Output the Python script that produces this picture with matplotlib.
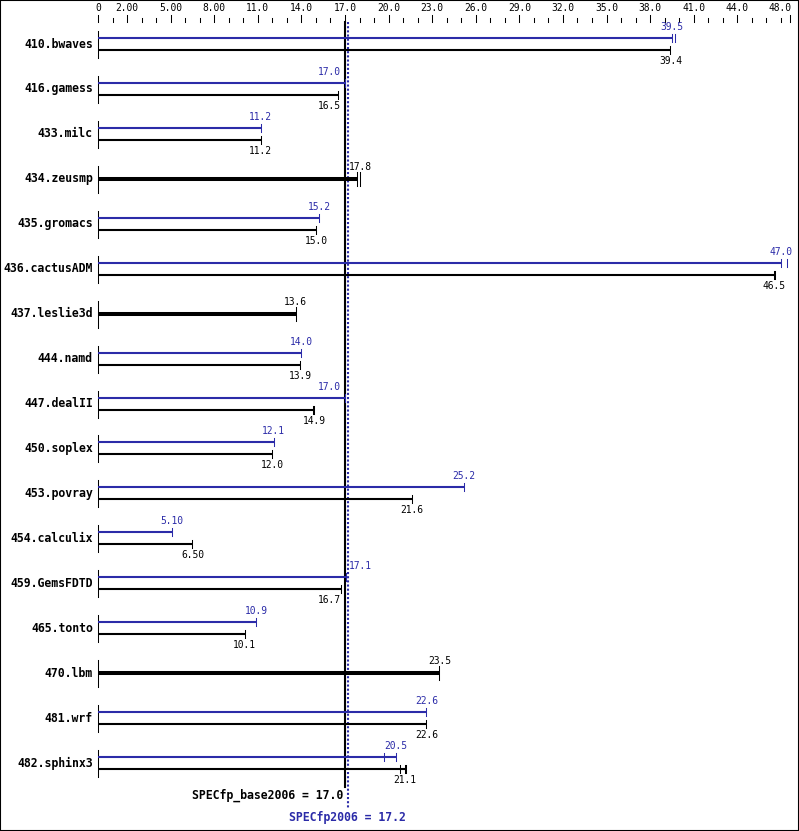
import matplotlib
matplotlib.use("Agg")
import matplotlib.pyplot as plt
from matplotlib.patches import Rectangle

benchmarks = ["410.bwaves", "416.gamess", "433.milc", "434.zeusmp", "435.gromacs",
              "436.cactusADM", "437.leslie3d", "444.namd", "447.dealII", "450.soplex",
              "453.povray", "454.calculix", "459.GemsFDTD", "465.tonto", "470.lbm",
              "481.wrf", "482.sphinx3"]
# None -> peak equal to base, drawn as one thick bar
peak = [39.5, 17.0, 11.2, None, 15.2, 47.0, None, 14.0, 17.0, 12.1, 25.2, 5.10,
        17.1, 10.9, None, 22.6, 20.5]
base = [39.4, 16.5, 11.2, 17.8, 15.0, 46.5, 13.6, 13.9, 14.9, 12.0, 21.6, 6.50,
        16.7, 10.1, 23.5, 22.6, 21.1]
# other run results shown as extra end marks
peak_extra = [[39.7], [], [], [], [], [47.4], [], [], [], [], [], [], [], [], [], [], [19.7]]
base_extra = [[], [], [], [18.0], [], [46.6], [], [], [14.8], [], [], [], [], [], [], [],
              [20.8, 21.2]]
tick_values = [0, 2, 5, 8, 11, 14, 17, 20, 23, 26, 29, 32, 35, 38, 41, 44, 47.6]
tick_labels = ["0", "2.00", "5.00", "8.00", "11.0", "14.0", "17.0", "20.0", "23.0",
               "26.0", "29.0", "32.0", "35.0", "38.0", "41.0", "44.0", "48.0"]
base_score = 17.0
peak_score = 17.2

BLUE = "#2b2ba8"
MONO = "DejaVu Sans Mono"
PX = 14.53   # pixels per unit
X0 = 98      # pixel of zero

fig = plt.figure(figsize=(7.99, 8.31), dpi=100)
ax = fig.add_axes([0, 0, 1, 1])
ax.set_xlim(-X0 / PX, (799 - X0) / PX)
ax.set_ylim(831, 0)
ax.axis("off")
fig.patches.append(Rectangle((0, 0), 1, 1, transform=fig.transFigure, fill=False,
                             ec="black", lw=1.5))


def fmt(v):
    return f"{v:.2f}" if v < 10 else f"{v:.1f}"


def label_pos(v):
    half = 0.85
    if v - half < 17.3 and v + half > 16.95:
        if v < 17.05:
            return 16.68, "right"
        return 17.25, "left"
    return v, "center"


# top scale
for v in range(1, 48):
    if v not in tick_values:
        ax.plot([v, v], [18, 22], color="black", lw=0.75)
for v, lab in zip(tick_values, tick_labels):
    ax.plot([v, v], [15, 22], color="black", lw=0.75)
    ha = "right" if v == tick_values[-1] else "center"
    xx = 47.76 if v == tick_values[-1] else v
    ax.text(xx, 8, lab, ha=ha, va="center", fontsize=6.9, family=MONO)

# reference lines
ax.plot([base_score, base_score], [22, 787], color="black", lw=1.5)
ax.plot([peak_score, peak_score], [22, 808], color=BLUE, lw=1.5, linestyle=(0, (1, 1)))

for i, name in enumerate(benchmarks):
    y = 44 + 44.94 * i
    ax.plot([0, 0], [max(y - 13, 22), y + 14], color="black", lw=0.75)
    ax.text(-0.35, y, name, ha="right", va="center", fontsize=8.3, family=MONO,
            fontweight="bold")
    b = base[i]
    if peak[i] is None:
        ax.plot([0, b], [y, y], color="black", lw=2.9, solid_capstyle="butt")
        for m in [b] + base_extra[i]:
            ax.plot([m, m], [y - 7, y + 7], color="black", lw=0.75)
        lx, ha = label_pos(b)
        ax.text(lx, y - 12, fmt(b), ha=ha, va="center", fontsize=6.9, family=MONO)
        continue
    p = peak[i]
    ax.plot([0, p], [y - 6, y - 6], color=BLUE, lw=1.5, solid_capstyle="butt")
    for m in [p] + peak_extra[i]:
        ax.plot([m, m], [y - 10, y - 2], color=BLUE, lw=0.75)
    lx, ha = label_pos(p)
    ax.text(lx, y - 17, fmt(p), ha=ha, va="center", fontsize=6.9, family=MONO, color=BLUE)

    ax.plot([0, b], [y + 6, y + 6], color="black", lw=1.5, solid_capstyle="butt")
    for m in [b] + base_extra[i]:
        ax.plot([m, m], [y + 2, y + 10], color="black", lw=0.75)
    lx, ha = label_pos(b)
    ax.text(lx, y + 17, fmt(b), ha=ha, va="center", fontsize=6.9, family=MONO)

ax.text((343 - X0) / PX, 795, f"SPECfp_base2006 = {base_score:.1f}", ha="right",
        va="center", fontsize=8.3, family=MONO, fontweight="bold")
ax.text(peak_score, 817, f"SPECfp2006 = {peak_score:.1f}", ha="center", va="center",
        fontsize=8.3, family=MONO, fontweight="bold", color=BLUE)

fig.savefig("out.png", dpi=100)
